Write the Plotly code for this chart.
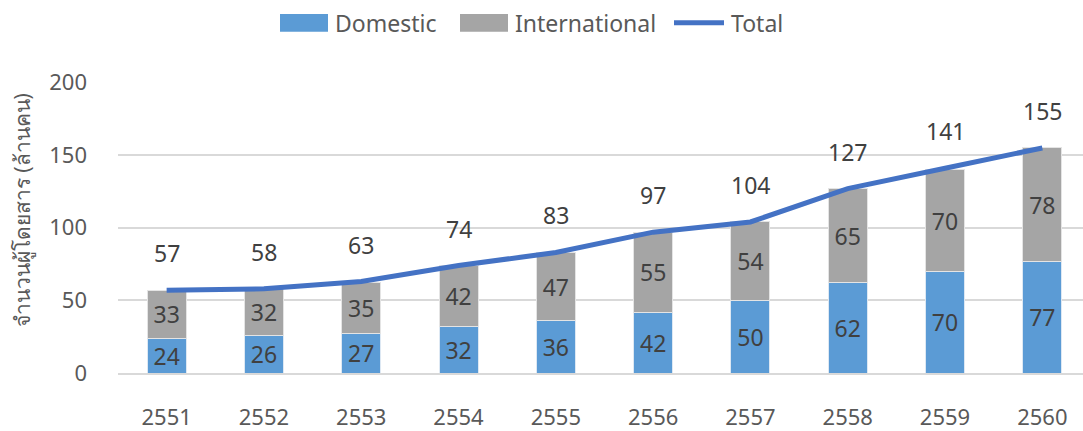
import plotly.graph_objects as go

years = ["2551", "2552", "2553", "2554", "2555", "2556", "2557", "2558", "2559", "2560"]
domestic = [24, 26, 27, 32, 36, 42, 50, 62, 70, 77]
international = [33, 32, 35, 42, 47, 55, 54, 65, 70, 78]
total = [57, 58, 63, 74, 83, 97, 104, 127, 141, 155]

FONT = "Noto Sans, sans-serif"
TXT = "#404040"
TICK = "#595959"
C_DOM = "#5B9BD5"
C_INT = "#A5A5A5"
C_TOT = "#4472C4"

W, H = 1083, 431
ML, MR, MT, MB = 118, 0, 82, 54
PW, PH = W - ML - MR, H - MT - MB


def px_x(p):
    """Pixel x -> paper x."""
    return (p - ML) / PW


def px_y(p):
    """Pixel y (from top) -> paper y."""
    return (H - MB - p) / PH


fig = go.Figure()
fig.add_trace(go.Bar(
    x=years, y=domestic, name="Domestic",
    marker=dict(color=C_DOM, line=dict(color="#DDE8F3", width=1)),
    text=domestic, textposition="inside", insidetextanchor="middle",
    textangle=0, constraintext="none",
    textfont=dict(size=23, color=TXT, family=FONT),
))
fig.add_trace(go.Bar(
    x=years, y=international, name="International",
    marker=dict(color=C_INT, line=dict(color="#E4E4E4", width=1)),
    text=international, textposition="inside", insidetextanchor="middle",
    textangle=0, constraintext="none",
    textfont=dict(size=23, color=TXT, family=FONT),
))
fig.add_trace(go.Scatter(
    x=years, y=total, name="Total", mode="lines",
    line=dict(color=C_TOT, width=5),
))

# total labels above the line, placed by category index
for i, t in enumerate(total):
    fig.add_annotation(
        x=i, y=t, xref="x", yref="y", text=str(t), showarrow=False, yshift=37,
        font=dict(size=23, color=TXT, family=FONT),
    )

# legend row with wide swatches
legend_items = [
    ("Domestic", "rect", C_DOM, 280, 328),
    ("International", "rect", C_INT, 460, 508),
    ("Total", "line", C_TOT, 674, 724),
]
ly = 22
for label, kind, color, x0, x1 in legend_items:
    if kind == "rect":
        fig.add_shape(type="rect", xref="paper", yref="paper",
                      x0=px_x(x0), x1=px_x(x1), y0=px_y(ly + 9), y1=px_y(ly - 9),
                      fillcolor=color, line=dict(width=0))
    else:
        fig.add_shape(type="line", xref="paper", yref="paper",
                      x0=px_x(x0), x1=px_x(x1), y0=px_y(ly), y1=px_y(ly),
                      line=dict(color=color, width=5))
    fig.add_annotation(x=px_x(x1 + 5), y=px_y(ly), xref="paper", yref="paper",
                       xanchor="left", yanchor="middle", text=label,
                       showarrow=False, font=dict(size=23, color=TICK, family=FONT))

# rotated axis title
fig.add_annotation(x=px_x(22), y=px_y(212), xref="paper", yref="paper",
                   text="จำนวนผู้โดยสาร (ล้านคน)", textangle=-90, showarrow=False,
                   xanchor="center", yanchor="middle",
                   font=dict(size=21, color=TICK, family=FONT))

fig.update_layout(
    width=W, height=H,
    margin=dict(l=ML, r=MR, t=MT, b=MB),
    barmode="stack", bargap=0.6,
    plot_bgcolor="white", paper_bgcolor="white",
    font=dict(family=FONT, color=TICK, size=22),
    showlegend=False,
)
fig.update_xaxes(
    type="category", range=[-0.5, 9.418],
    showgrid=False, showline=True, linecolor="#D9D9D9", linewidth=2,
    ticks="", tickfont=dict(size=22, color=TICK, family=FONT),
    ticklabelstandoff=24,
)
fig.update_yaxes(
    range=[0, 200.4], tickvals=[0, 50, 100, 150, 200],
    showgrid=True, gridcolor="#D9D9D9", gridwidth=2,
    zeroline=False, showline=False,
    ticks="", tickfont=dict(size=22, color=TICK, family=FONT),
    ticklabelstandoff=30,
)

fig.write_html("out.html")
